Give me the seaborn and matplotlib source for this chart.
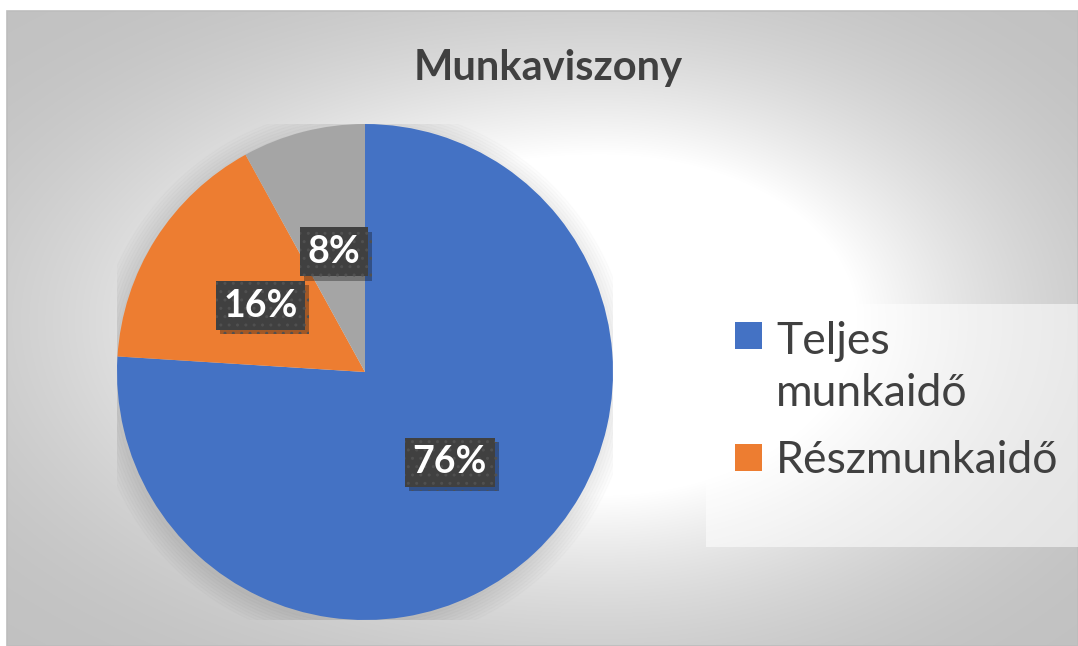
import numpy as np
import matplotlib
matplotlib.use("Agg")
import matplotlib.pyplot as plt
import matplotlib.patheffects as pe
from matplotlib.patches import Rectangle, Circle
import seaborn as sns

# adatok
TITLE = "Munkaviszony"
CATEGORIES = ["Teljes munkaidő", "Részmunkaidő", "Egyéb"]
LEGEND_LABELS = ["Teljes\nmunkaidő", "Részmunkaidő"]
SHARES = [76, 16, 8]
COLORS = ["#4472C4", "#ED7D31", "#A5A5A5"]

sns.set_theme(style="white")
plt.rcParams["font.family"] = ["Lato", "DejaVu Sans"]

W, H = 1078, 646
fig = plt.figure(figsize=(W / 100, H / 100), dpi=100)
fig.patch.set_facecolor("white")

# háttér: radiális átmenet
bg = fig.add_axes([7 / W, 0, (W - 7) / W, (H - 11) / H])
yy, xx = np.mgrid[11:H, 7:W].astype(float)
cx, cy = 600.0, 320.0
nx = np.where(xx < cx, (cx - xx) / (cx - 7), (xx - cx) / (W - cx))
ny = np.where(yy < cy, (cy - yy) / (cy - 11), (yy - cy) / (H - cy))
t = np.sqrt(nx ** 2 + ny ** 2) / np.sqrt(2)
s = np.clip((t - 0.38) / 0.62, 0, 1)
gray = 1 - 0.24 * (1 - (1 - s) ** 2)
bg.imshow(np.dstack([gray, gray, gray]), aspect="auto", interpolation="bilinear")
bg.set_axis_off()
fig.add_artist(Rectangle((7 / W, 0), (W - 7) / W, (H - 11) / H, transform=fig.transFigure,
                         fill=False, edgecolor="#BDBDBD", linewidth=1.2))

# kördiagram
cxp, cyp, r = 365, 372, 248
ax = fig.add_axes([(cxp - r) / W, (H - cyp - r) / H, 2 * r / W, 2 * r / H])
for k in range(8):
    ax.add_patch(Circle((-0.01, -0.015), 1.0 + 0.012 * k, color="black", alpha=0.012, zorder=0))
wedges, texts, autotexts = ax.pie(SHARES, colors=COLORS, startangle=90, counterclock=False,
                                  autopct="%d%%", pctdistance=0.5, radius=1.0,
                                  wedgeprops=dict(linewidth=0))
for at in autotexts:
    at.set_color("white")
    at.set_fontsize(27)
    at.set_fontweight("bold")
    at.set_bbox(dict(boxstyle="square,pad=0.2", facecolor="#404040", edgecolor="#505050",
                     hatch="..", linewidth=0))
    at.get_bbox_patch().set_path_effects([pe.withSimplePatchShadow(offset=(3, -3), alpha=0.35),
                                          pe.Normal()])
ax.set_xlim(-1, 1)
ax.set_ylim(-1, 1)
ax.set_aspect("equal")
ax.set_axis_off()

# cím
fig.text(548 / W, 1 - 80 / H, TITLE, ha="center", va="baseline", fontsize=30,
         fontweight="bold", color="#404040")

# jelmagyarázat
fig.add_artist(Rectangle((706 / W, 1 - 547 / H), (W - 706) / W, (547 - 304) / H,
                         transform=fig.transFigure, facecolor="white", alpha=0.55,
                         edgecolor="none"))
legend_tops = [322, 444]
line_gap = 55
for label, color, top in zip(LEGEND_LABELS, COLORS, legend_tops):
    fig.add_artist(Rectangle((735 / W, 1 - (top + 27) / H), 27 / W, 27 / H,
                             transform=fig.transFigure, facecolor=color, edgecolor="none"))
    nlines = label.count("\n")
    fig.text(776 / W, 1 - (top + 29 + line_gap * nlines) / H, label, ha="left", va="baseline",
             fontsize=32, color="#404040", linespacing=1.32)

fig.savefig("out.png", dpi=100)
